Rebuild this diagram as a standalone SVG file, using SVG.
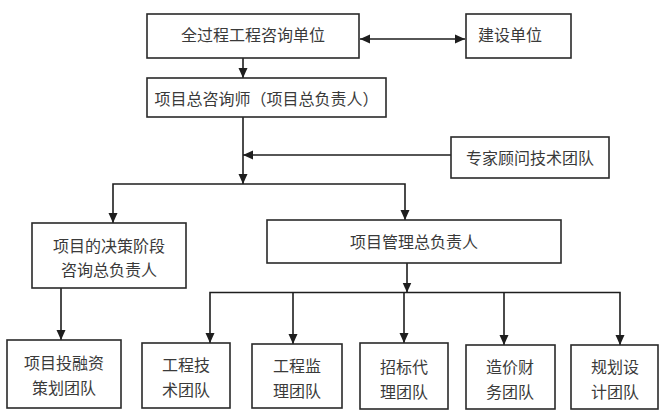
<svg xmlns="http://www.w3.org/2000/svg" width="660" height="414" viewBox="0 0 660 414">
<style>
.box{fill:#fff;stroke:#2a2a2a;stroke-width:1.6}
.t{font-family:"Noto Sans CJK SC","Noto Sans",sans-serif;font-size:16px;fill:#3a3a3a;text-anchor:middle;dominant-baseline:central}
.c{fill:none;stroke:#1e1e1e;stroke-width:1.6}
</style>
<defs>
<marker id="ah" viewBox="0 0 10 10" refX="10" refY="5" markerWidth="10" markerHeight="10" markerUnits="userSpaceOnUse" orient="auto-start-reverse">
<path d="M0,0.5 L10,5 L0,9.5 z" fill="#1e1e1e"/>
</marker>
</defs>
<rect width="660" height="414" fill="#fff"/>
<g id="connectors">
<line class="c" x1="360" y1="39" x2="465" y2="39" marker-start="url(#ah)" marker-end="url(#ah)"/>
<line class="c" x1="243" y1="58" x2="243" y2="78" marker-end="url(#ah)"/>
<line class="c" x1="243" y1="117" x2="243" y2="184" marker-end="url(#ah)"/>
<line class="c" x1="451" y1="155" x2="243" y2="155" marker-end="url(#ah)"/>
<polyline class="c" points="113,223 113,184 405,184 405,220" marker-start="url(#ah)" marker-end="url(#ah)"/>
<line class="c" x1="61" y1="288" x2="61" y2="340" marker-end="url(#ah)"/>
<line class="c" x1="407" y1="263" x2="407" y2="292.5" marker-end="url(#ah)"/>
<polyline class="c" points="210,343 210,292.5 620,292.5 620,345" marker-start="url(#ah)" marker-end="url(#ah)"/>
<line class="c" x1="293" y1="292.5" x2="293" y2="344" marker-end="url(#ah)"/>
<line class="c" x1="404" y1="292.5" x2="404" y2="343" marker-end="url(#ah)"/>
<line class="c" x1="504" y1="292.5" x2="504" y2="345" marker-end="url(#ah)"/>
</g>
<g id="n1"><rect class="box" x="147" y="14" width="212" height="44"/><text class="t" x="253" y="34">全过程工程咨询单位</text></g>
<g id="n2"><rect class="box" x="466" y="14" width="105" height="44"/><text class="t" x="510" y="34">建设单位</text></g>
<g id="n3"><rect class="box" x="147" y="78" width="239" height="39"/><text class="t" x="266.5" y="98">项目总咨询师（项目总负责人）</text></g>
<g id="n4"><rect class="box" x="451" y="137" width="158" height="41"/><text class="t" x="530" y="157">专家顾问技术团队</text></g>
<g id="n5"><rect class="box" x="32" y="223" width="154" height="65"/><text class="t" x="109" y="245">项目的决策阶段</text><text class="t" x="109" y="269">咨询总负责人</text></g>
<g id="n6"><rect class="box" x="267" y="220" width="294" height="43"/><text class="t" x="414" y="240.5">项目管理总负责人</text></g>
<g id="n7"><rect class="box" x="7" y="340" width="114" height="68"/><text class="t" x="64" y="362">项目投融资</text><text class="t" x="64" y="387">策划团队</text></g>
<g id="n8"><rect class="box" x="142" y="343" width="88" height="65"/><text class="t" x="186" y="364">工程技</text><text class="t" x="186" y="389">术团队</text></g>
<g id="n9"><rect class="box" x="252" y="344" width="90" height="64"/><text class="t" x="297" y="365">工程监</text><text class="t" x="297" y="390">理团队</text></g>
<g id="n10"><rect class="box" x="360" y="343" width="88" height="66"/><text class="t" x="404" y="366">招标代</text><text class="t" x="404" y="391">理团队</text></g>
<g id="n11"><rect class="box" x="466" y="345" width="89" height="64"/><text class="t" x="510" y="366">造价财</text><text class="t" x="510" y="391">务团队</text></g>
<g id="n12"><rect class="box" x="571" y="345" width="87" height="64"/><text class="t" x="615" y="366">规划设</text><text class="t" x="615" y="391">计团队</text></g>
</svg>
